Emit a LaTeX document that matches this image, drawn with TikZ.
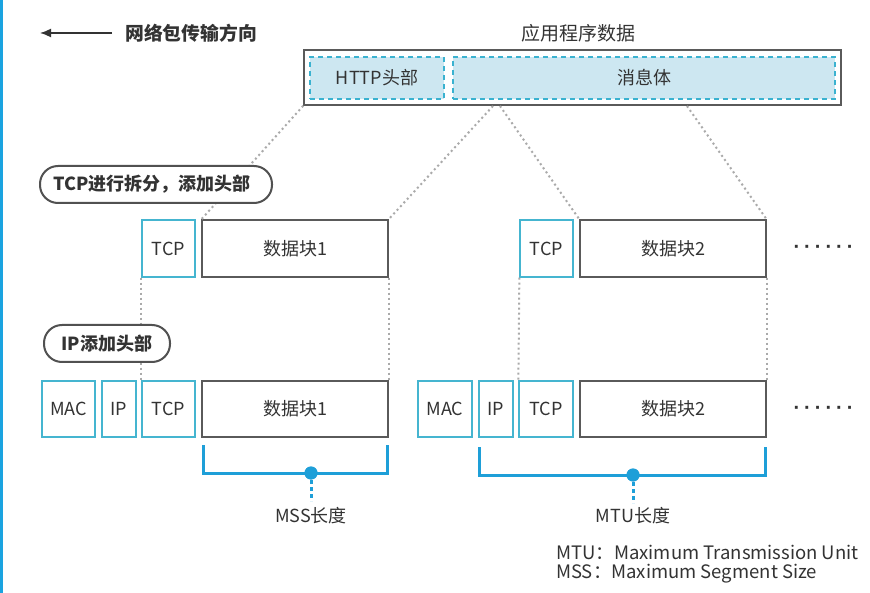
\documentclass[tikz,border=0pt]{standalone}
\usepackage{fontspec}
\setmainfont{Noto Sans CJK SC}
\newfontfamily\dotfont{Liberation Sans}
\usetikzlibrary{arrows.meta}
\definecolor{cyanline}{HTML}{45B5D0}
\definecolor{fillblue}{HTML}{CDE7F1}
\definecolor{dashcyan}{HTML}{3AB2D0}
\definecolor{bracketblue}{HTML}{1E9FD8}
\definecolor{boxgray}{HTML}{5A5A5A}
\definecolor{dotgray}{HTML}{AAAAAA}
\definecolor{stripe}{HTML}{1AA3E0}
\definecolor{textgray}{HTML}{333333}
\tikzset{
  txt/.style={font=\fontsize{18}{21}\selectfont, text=textgray},
  hdr/.style={draw=cyanline, line width=1.3pt, minimum width=53pt, minimum height=57pt, inner sep=0pt, txt},
  datablk/.style={draw=boxgray, line width=1.3pt, minimum width=186pt, minimum height=57pt, inner sep=0pt, txt},
  appbox/.style={draw=dashcyan, dashed, dash pattern=on 5pt off 4pt, fill=fillblue, line width=1.3pt, minimum height=42pt, inner sep=0pt, txt},
  pill/.style={draw=boxgray!90!black, fill=white, line width=2pt, rounded corners=18pt, minimum height=37pt, inner sep=0pt, font=\fontsize{18}{21}\selectfont\bfseries, text=textgray},
  dotline/.style={draw=dotgray, line width=2pt, dash pattern=on 2pt off 3pt},
  bracket/.style={draw=bracketblue, line width=3pt},
  bdot/.style={circle, fill=bracketblue, minimum size=13pt, inner sep=0pt},
  bdash/.style={draw=bracketblue, line width=3pt, dash pattern=on 4pt off 3pt},
  morestuff/.style={font=\fontsize{20}{22}\dotfont\bfseries, text=textgray, inner sep=0pt},
  legend/.style={font=\fontsize{18.5}{22}\selectfont, text=textgray, anchor=west, inner sep=0pt},
}
\begin{document}
\begin{tikzpicture}[x=1pt, y=-1pt]
\useasboundingbox (0,0) rectangle (870,593);
\fill[white] (0,0) rectangle (870,593);
\fill[stripe] (0,0) rectangle (3,593);

% direction
\node[anchor=west, inner sep=0pt, font=\fontsize{18.8}{21}\selectfont\bfseries, text=textgray] (dir) at (125,33) {网络包传输方向};
\coordinate (arrS) at (112,33);
\coordinate (arrE) at (40,33);
\draw[line width=1.6pt, draw=textgray, -{Latex[length=11pt,width=9pt]}] (arrS) -- (arrE);

% application data
\node[font=\fontsize{19}{21}\selectfont, text=textgray, inner sep=0pt] (apptitle) at (578,33) {应用程序数据};
\node[draw=boxgray, line width=1.5pt, minimum width=537pt, minimum height=55pt, inner sep=0pt] (outer) at (572.5,77.5) {};
\node[appbox, minimum width=134pt] (http) at (377,78) {HTTP头部};
\node[appbox, minimum width=382pt] (body) at (644,78) {消息体};

% row 1
\node[hdr] (tcpA) at (168.5,248.5) {TCP};
\node[datablk] (dA) at (295,248.5) {数据块1};
\node[hdr] (tcpB) at (546.5,248.5) {TCP};
\node[datablk] (dB) at (673,248.5) {数据块2};
\node[morestuff] (dots1) at (823.5,249) {·\kern4pt·\kern4pt·\kern4pt·\kern4pt·\kern4pt·};

% row 2
\node[hdr, minimum height=56pt] (macA) at (68.5,409) {MAC};
\node[hdr, minimum height=56pt, minimum width=34pt] (ipA) at (119,409) {IP};
\node[hdr, minimum height=56pt] (tcpA2) at (168.5,409) {TCP};
\node[datablk, minimum height=56pt] (dA2) at (295,409) {数据块1};
\node[hdr, minimum height=56pt, minimum width=54pt] (macB) at (445,409) {MAC};
\node[hdr, minimum height=56pt, minimum width=34pt] (ipB) at (496,409) {IP};
\node[hdr, minimum height=56pt, minimum width=54pt] (tcpB2) at (546,409) {TCP};
\node[datablk, minimum height=56pt] (dB2) at (673,409) {数据块2};
\node[morestuff] (dots2) at (823.5,410) {·\kern4pt·\kern4pt·\kern4pt·\kern4pt·\kern4pt·};

% dotted guide lines
\coordinate (b1) at (493,106);
\coordinate (b2) at (500,106);
\coordinate (b3) at (687,106);
\draw[dotline] (outer.south west) -- (dA.north west);
\draw[dotline] (b1) -- (dA.north east);
\draw[dotline] (b2) -- (dB.north west);
\draw[dotline] (b3) -- (dB.north east);
\draw[dotline] (tcpA.south west) -- (tcpA2.north west);
\draw[dotline] (dA.south east) -- (dA2.north east);
\draw[dotline] (tcpB.south west) -- (tcpB2.north west);
\draw[dotline] (dB.south east) -- (dB2.north east);

% pills
\node[pill, minimum width=232pt] (pill1) at (156,184.5) {\hspace*{-8pt}TCP进行拆分，添加头部};
\node[pill, minimum width=126pt] (pill2) at (107,343.5) {IP添加头部};

% MSS bracket
\coordinate (m1) at (203,445);
\coordinate (m2) at (387,445);
\node[bdot] (mssdot) at (311,473) {};
\node[txt, inner sep=0pt] (msslbl) at (311,516) {MSS长度};
\draw[bracket] (m1) |- (mssdot.center) -| (m2);
\draw[bdash] (mssdot.center) -- ++(0,28);
\node[bdot] at (mssdot) {};

% MTU bracket
\coordinate (t1) at (479,447);
\coordinate (t2) at (765,447);
\node[bdot] (mtudot) at (633,475) {};
\node[txt, inner sep=0pt] (mtulbl) at (633,516) {MTU长度};
\draw[bracket] (t1) |- (mtudot.center) -| (t2);
\draw[bdash] (mtudot.center) -- ++(0,28);
\node[bdot] at (mtudot) {};

% legend
\node[legend] (leg1) at (556,552) {MTU：Maximum Transmission Unit};
\node[legend] (leg2) at (556,574) {MSS：Maximum Segment Size};
\end{tikzpicture}
\end{document}
